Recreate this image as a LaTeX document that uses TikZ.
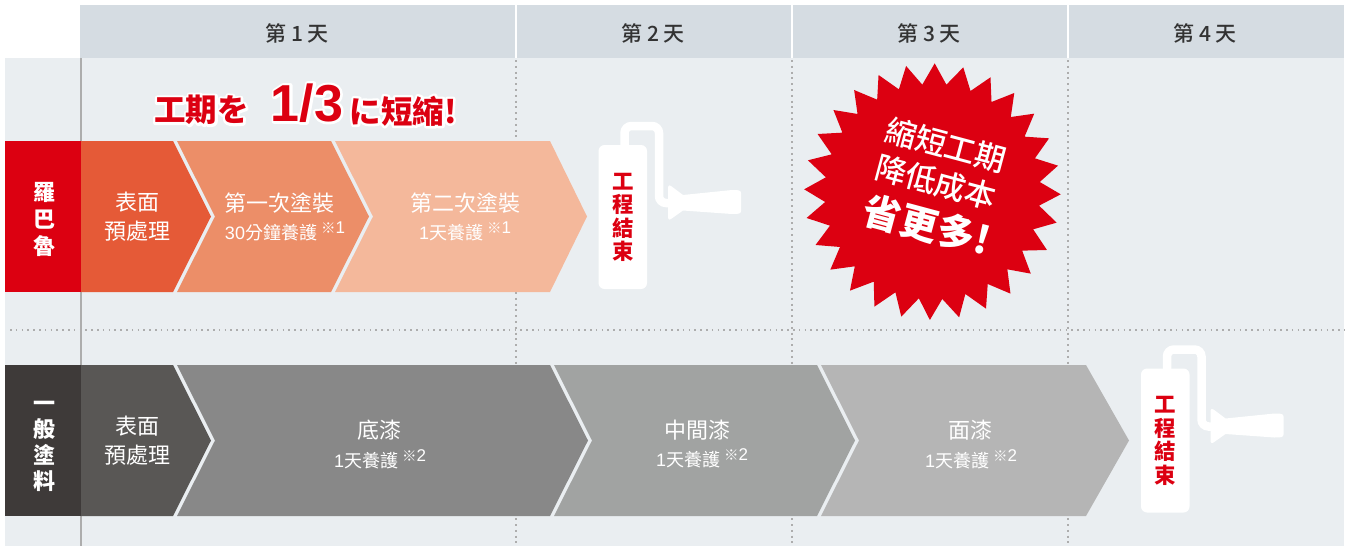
\documentclass[tikz,border=0pt]{standalone}
\usepackage{fontspec}
\setmainfont{Noto Sans CJK TC}
\newfontfamily\latinf{Liberation Sans}
\newfontfamily\medf{Noto Sans CJK TC Medium}
\newfontfamily\headlatin{Liberation Sans Bold}
\definecolor{hdr}{HTML}{D5DCE2}
\definecolor{bgc}{HTML}{EAEEF1}
\definecolor{redc}{HTML}{DC0011}
\definecolor{darkc}{HTML}{3E3A39}
\definecolor{txtc}{HTML}{333333}
\definecolor{dotc}{HTML}{ADADAD}
\definecolor{ra}{HTML}{E55A37}
\definecolor{rb}{HTML}{EC8E68}
\definecolor{rc}{HTML}{F4B89B}
\definecolor{ga}{HTML}{595755}
\definecolor{gb}{HTML}{888888}
\definecolor{gc}{HTML}{A1A3A2}
\definecolor{gd}{HTML}{B5B5B5}
\newcommand{\szt}[2]{\fontsize{#1}{#2}\selectfont}
\newcommand{\nb}[1]{\raisebox{6pt}{\szt{14.5}{15}※\szt{17}{18}\latinf #1}}
\newcommand{\halotext}[1]{\special{pdf:code 2 Tr 5 w 1 1 1 RG 1 j}#1\special{pdf:code 0 Tr 1 w}}
\newcommand{\paintroller}[3]{%
 \begin{scope}[shift={(#1,#2)}]
  \draw[white,line width=8.5pt,rounded corners=7pt] (624.5,146) -- (624.5,126) -- (659,126) -- (659,203) -- (672,203);
  \fill[white,rounded corners=6pt] (598.5,145) rectangle (647,289);
  \fill[white] (668,187) .. controls (668,185) and (670,185) .. (671,186) -- (683,195)
    -- (732,190) .. controls (738,190) and (741,190) .. (741,193) -- (741,211)
    .. controls (741,214) and (738,214) .. (732,214) -- (683,210.5) -- (671,219)
    .. controls (670,220) and (668,220) .. (668,218) -- cycle;
  \node[endlabel] (#3) at (623,217.5) {工\\程\\結\\束};
 \end{scope}}
\tikzset{
 hdrbox/.style={fill=hdr,draw=none},
 daylabel/.style={text=txtc,font=\medf\szt{21}{24}},
 vdot/.style={dotc,line width=2pt,dash pattern=on 2pt off 3.8pt},
 hdot/.style={dotc,line width=1.5pt,dash pattern=on 1.5pt off 4.3pt},
 sidelabel/.style={text=white,align=center,inner sep=0pt,font=\bfseries\szt{22}{27}},
 steptext/.style={text=white,align=center,inner sep=0pt,font=\szt{22}{29}},
 subtext/.style={text=white,inner sep=0pt,font=\szt{18}{20}},
 endlabel/.style={text=redc,align=center,inner sep=0pt,font=\bfseries\szt{21.5}{23.5}},
 headred/.style={text=redc,inner sep=0pt,anchor=center},
 headhalo/.style={text=white,inner sep=0pt,anchor=center},
 burst/.style={text=white,inner sep=0pt,rotate=-15},
}
\begin{document}
\begin{tikzpicture}[x=1pt,y=-1pt]
\useasboundingbox (0,0) rectangle (1349,546);
\fill[white] (0,0) rectangle (1349,546);
% backgrounds
\fill[bgc] (5,58) rectangle (1344,546);
\fill[hdrbox] (80,5) rectangle (515,58);
\fill[hdrbox] (517,5) rectangle (791,58);
\fill[hdrbox] (793,5) rectangle (1067,58);
\fill[hdrbox] (1069,5) rectangle (1344,58);
\node[daylabel] (d1) at (297,33) {第 1 天};
\node[daylabel] (d2) at (653,33) {第 2 天};
\node[daylabel] (d3) at (929,33) {第 3 天};
\node[daylabel] (d4) at (1205,33) {第 4 天};
% grid
\draw[vdot] (515.5,60) -- (515.5,546);
\draw[vdot] (791.5,60) -- (791.5,546);
\draw[vdot] (1067.5,60) -- (1067.5,546);
\draw[hdot] (10,330) -- (1345,330);
\draw[dotc,line width=1.5pt] (81,58) -- (81,546);
% row 1
\fill[redc] (5,141) rectangle (81,292);
\fill[ra] (81,141) -- (173,141) -- (211,216.5) -- (173,292) -- (81,292) -- cycle;
\fill[rb] (177,141) -- (331,141) -- (369,216.5) -- (331,292) -- (177,292) -- (215,216.5) -- cycle;
\fill[rc] (335,141) -- (550,141) -- (587,216.5) -- (550,292) -- (335,292) -- (373,216.5) -- cycle;
\node[sidelabel] (rowa) at (44,219.5) {羅\\巴\\魯};
\node[steptext] (a1) at (137,216.5) {表面\\預處理};
\node[steptext] (a2) at (279.5,203) {第一次塗裝};
\node[subtext] (a2s) at (285,231) {{\latinf 30}分鐘養護 \nb{1}};
\node[steptext] (a3) at (465,203) {第二次塗裝};
\node[subtext] (a3s) at (465,231) {{\latinf 1}天養護 \nb{1}};
% row 2
\fill[darkc] (5,365) rectangle (81,516);
\fill[ga] (81,365) -- (173,365) -- (211,440.5) -- (173,516) -- (81,516) -- cycle;
\fill[gb] (177,365) -- (550,365) -- (588,440.5) -- (550,516) -- (177,516) -- (215,440.5) -- cycle;
\fill[gc] (554,365) -- (817,365) -- (855,440.5) -- (817,516) -- (554,516) -- (592,440.5) -- cycle;
\fill[gd] (821,365) -- (1086,365) -- (1129,440.5) -- (1086,516) -- (821,516) -- (859,440.5) -- cycle;
\node[sidelabel,font=\bfseries\szt{22}{26}] (rowb) at (44,446) {一\\般\\塗\\料};
\node[steptext] (b1) at (137,441) {表面\\預處理};
\node[steptext] (b2) at (379,430) {底漆};
\node[subtext] (b2s) at (380,459) {{\latinf 1}天養護 \nb{2}};
\node[steptext] (b3) at (697,430) {中間漆};
\node[subtext] (b3s) at (702,458) {{\latinf 1}天養護 \nb{2}};
\node[steptext] (b4) at (970,430) {面漆};
\node[subtext] (b4s) at (971,459) {{\latinf 1}天養護 \nb{2}};
% rollers
\paintroller{0}{0}{enda}
\paintroller{542.5}{223.5}{endb}
% heading
\node[headhalo] (h1h) at (201.5,110) {\bfseries\szt{31.5}{34}\halotext{工期を}};
\node[headhalo] (h2h) at (307,103) {\headlatin\szt{52}{54}\halotext{1/3}};
\node[headhalo] (h3h) at (403,111) {\bfseries\szt{31.5}{34}\halotext{に短縮!}};
\node[headred] (h1) at (201.5,110) {\bfseries\szt{31.5}{34}工期を};
\node[headred] (h2) at (307,103) {\headlatin\szt{52}{54}1/3};
\node[headred] (h3) at (403,111) {\bfseries\szt{31.5}{34}に短縮!};
% starburst
\begin{scope}[shift={(540,50)},xscale=0.3444,yscale=0.3333]
\fill[redc] (1146,40)--(1180,104)--(1229,52)--(1250,123)--(1308,82)--(1311,156)--(1377,129)--(1367,201)--(1435,191)--(1407,260)--(1478,265)--(1437,325)--(1504,347)--(1451,396)--(1512,433)--(1449,467)--(1500,518)--(1432,538)--(1472,600)--(1400,602)--(1425,671)--(1357,658)--(1366,731)--(1300,702)--(1295,776)--(1235,732)--(1217,802)--(1168,747)--(1132,810)--(1100,745)--(1049,800)--(1032,727)--(971,770)--(969,695)--(900,722)--(914,649)--(843,659)--(871,591)--(800,585)--(842,527)--(774,504)--(828,456)--(767,418)--(830,382)--(778,331)--(847,313)--(806,252)--(878,248)--(852,180)--(922,192)--(912,120)--(979,149)--(983,75)--(1042,118)--(1063,48)--(1110,104)--cycle;
\end{scope}
\node[burst,font=\medf\szt{31}{34}] (s1) at (946,145) {縮短工期};
\node[burst,font=\medf\szt{31}{34}] (s2) at (936,182) {降低成本};
\node[burst,font=\bfseries\szt{38}{42}] (s3) at (927,225) {省更多!};
\end{tikzpicture}
\end{document}
